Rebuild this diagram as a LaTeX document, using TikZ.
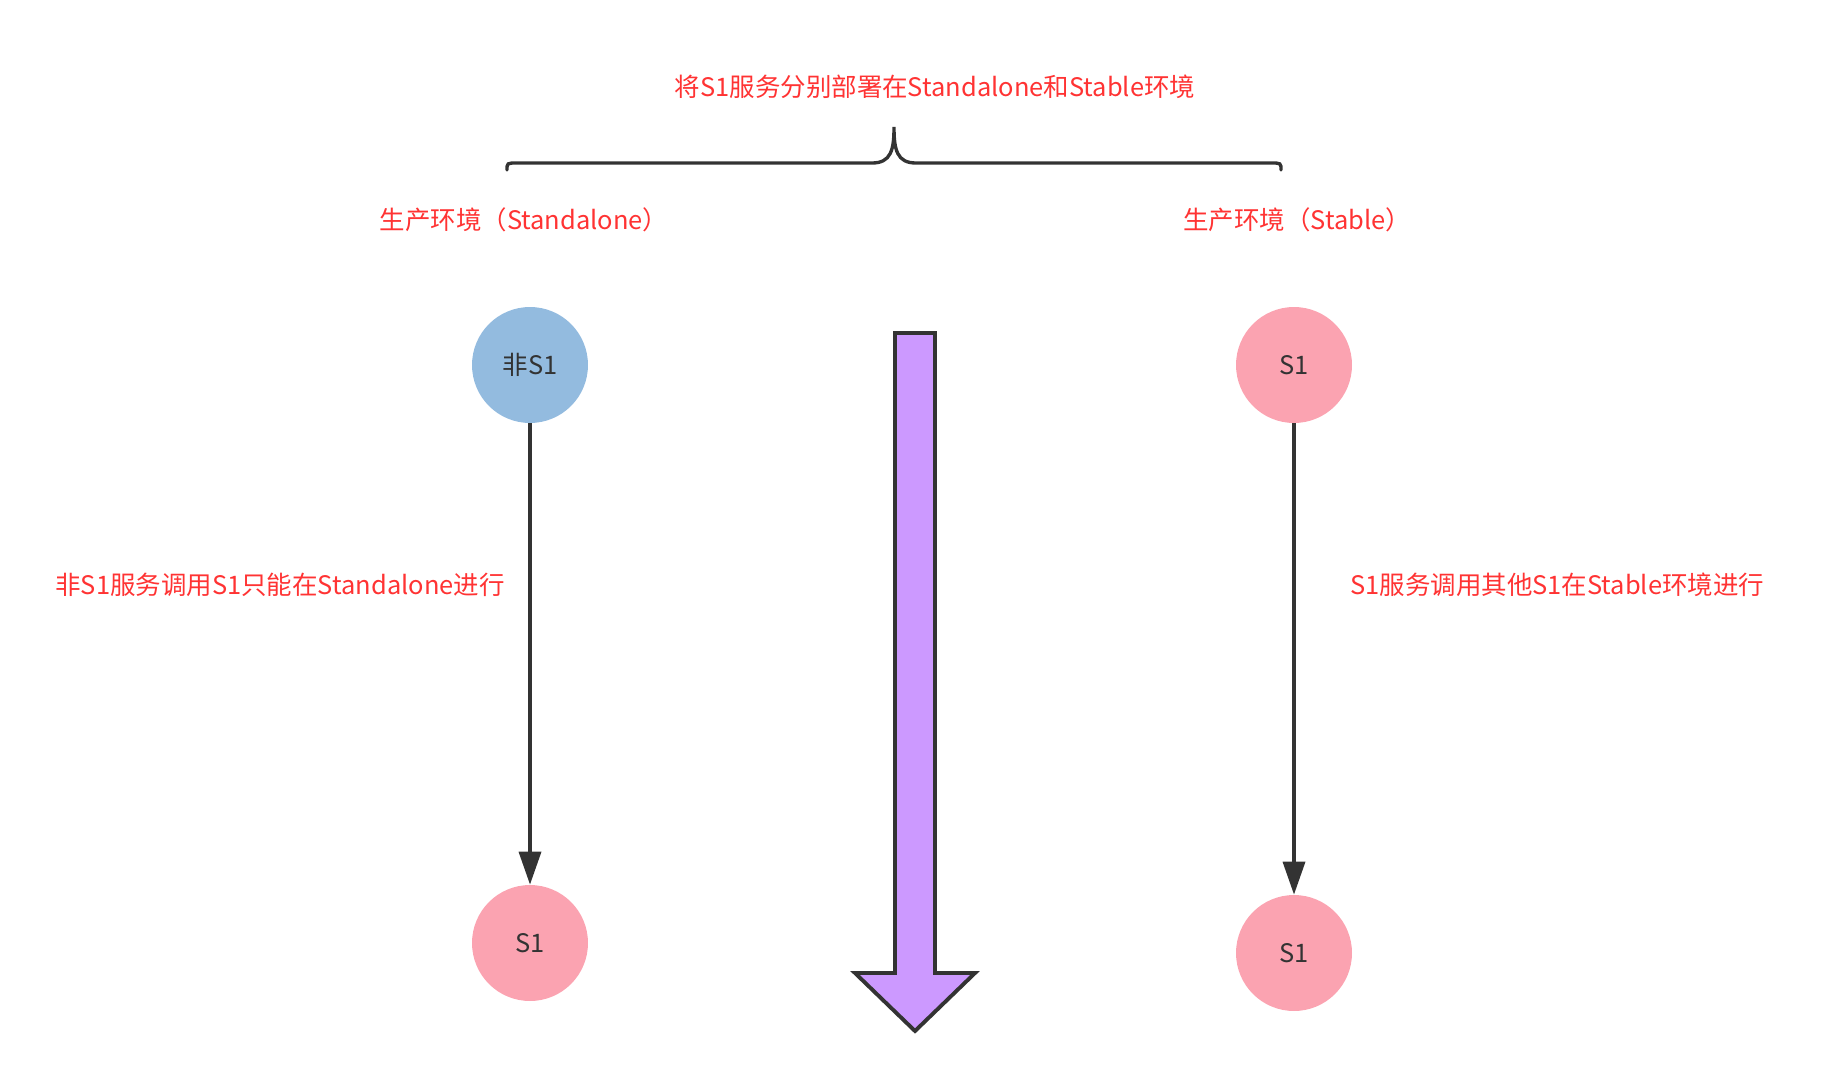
\documentclass[tikz,border=0pt]{standalone}
\usepackage{fontspec}
\setmainfont{Noto Sans CJK SC}
\usetikzlibrary{arrows.meta}
\definecolor{notered}{HTML}{FF3333}
\definecolor{darkline}{HTML}{333333}
\definecolor{blueball}{HTML}{93BBDF}
\definecolor{pinkball}{HTML}{FBA3B1}
\definecolor{lilac}{HTML}{CC99FF}
\begin{document}
\begin{tikzpicture}[x=0.02cm, y=-0.02cm,
        circ/.style={circle, minimum size=2.32cm, inner sep=0pt, text=darkline, font=\fontsize{14.5}{17}\selectfont},
        note/.style={inner sep=0pt, text=notered, font=\fontsize{14.5}{17}\selectfont},
        arrow/.style={-{Triangle[length=0.66cm, width=0.44cm]}, line width=2pt, draw=darkline},
        brace/.style={line width=1.9pt, draw=darkline, line cap=round},
        bigarrow/.style={line width=2.2pt, draw=darkline, fill=lilac, line join=miter}
    ]
        \useasboundingbox (0,0) rectangle (1836,1082);

        \node[note] (title) at (935,87) {将S1服务分别部署在Standalone和Stable环境};
        \draw[brace] (507,170) .. controls (507,163) .. (517,163) -- (872,163)
            .. controls (891,163) and (894,150) .. (894,127)
            .. controls (894,150) and (897,163) .. (916,163) -- (1271,163)
            .. controls (1281,163) .. (1281,170);

        \node[note] (envA) at (524,220) {生产环境（Standalone）};
        \node[note] (envB) at (1297,220) {生产环境（Stable）};

        \node[circ, fill=blueball] (n1) at (530,365) {非S1};
        \node[circ, fill=pinkball] (s1a) at (530,943) {S1};
        \node[circ, fill=pinkball] (s1b) at (1294,365) {S1};
        \node[circ, fill=pinkball] (s1c) at (1294,953) {S1};

        \draw[arrow] (n1) -- (s1a);
        \draw[arrow] (s1b) -- (s1c);

        \node[note, anchor=east] (noteA) at (505,585) {非S1服务调用S1只能在Standalone进行};
        \node[note, anchor=west] (noteB) at (1350,585) {S1服务调用其他S1在Stable环境进行};

        % middle arrow
        \draw[bigarrow] (895,333) -- (935,333) -- (935,973) -- (975,973) -- (915,1031)
            -- (855,973) -- (895,973) -- cycle;
    \end{tikzpicture}
\end{document}
